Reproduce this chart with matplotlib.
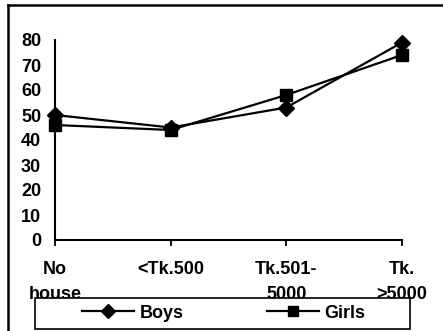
import numpy as np
import matplotlib.pyplot as plt
from matplotlib.patches import Rectangle
from matplotlib.lines import Line2D

# data
categories = ['No\nhouse', '<Tk.500', 'Tk.501-\n5000', 'Tk.\n>5000']
boys = [50, 45, 53, 79]
girls = [46, 44, 58, 74]
yticks = [0, 10, 20, 30, 40, 50, 60, 70, 80]

plt.rcParams['font.family'] = ['Liberation Sans', 'DejaVu Sans']
plt.rcParams['font.weight'] = 'bold'

W, H = 443, 331
fig = plt.figure(figsize=(W / 100, H / 100), dpi=100)


def px(x, y):
    # pixel coords (top-left origin) -> figure fraction
    return x / W, 1 - y / H


# plot area
x0, y0 = px(55, 240)
x1, y1 = px(402, 40)
ax = fig.add_axes([x0, y0, x1 - x0, y1 - y0])

ind = np.arange(len(categories))
ax.plot(ind, boys, color='black', lw=1.6, marker='D', markersize=8, clip_on=False, zorder=3)
ax.plot(ind, girls, color='black', lw=1.6, marker='s', markersize=8, clip_on=False, zorder=3)

ax.set_xlim(0, len(categories) - 1)
ax.set_ylim(0, 80)
ax.set_yticks(yticks)
ax.set_xticks(ind)
ax.set_xticklabels(categories, fontsize=13, fontweight='bold', linespacing=1.6)
ax.tick_params(axis='y', length=0, pad=10, labelsize=13)
ax.tick_params(axis='x', length=4, width=1.3, pad=11, direction='out')

for s in ['top', 'right']:
    ax.spines[s].set_visible(False)
for s in ['left', 'bottom']:
    ax.spines[s].set_linewidth(1.5)

# outer chart border (cropped at right and bottom)
fig.add_artist(Line2D([8 / W, 8 / W], [0, 1 - 5 / H], color='black', lw=1.8))
fig.add_artist(Line2D([8 / W, 1], [1 - 5 / H, 1 - 5 / H], color='black', lw=1.8))

# legend box, overlapping the bottom of the tick labels
lx, ly = px(35, 329)
rx, ry = px(410, 298)
fig.add_artist(Rectangle((lx, ly), rx - lx, ry - ly, transform=fig.transFigure,
                         facecolor='white', edgecolor='black', lw=1.2, zorder=2))

h1 = Line2D([], [], color='black', lw=1.6, marker='D', markersize=7)
h2 = Line2D([], [], color='black', lw=1.6, marker='s', markersize=7)
lax, lay = px(82, 313)
leg = fig.legend([h1, h2], ['Boys', 'Girls'], loc='center left', bbox_to_anchor=(lax, lay),
                 ncol=2, frameon=False, fontsize=13, handlelength=2.9, handletextpad=0.3,
                 columnspacing=4.6, borderpad=0, borderaxespad=0)
leg.set_zorder(3)

fig.savefig('out.png', dpi=100)
